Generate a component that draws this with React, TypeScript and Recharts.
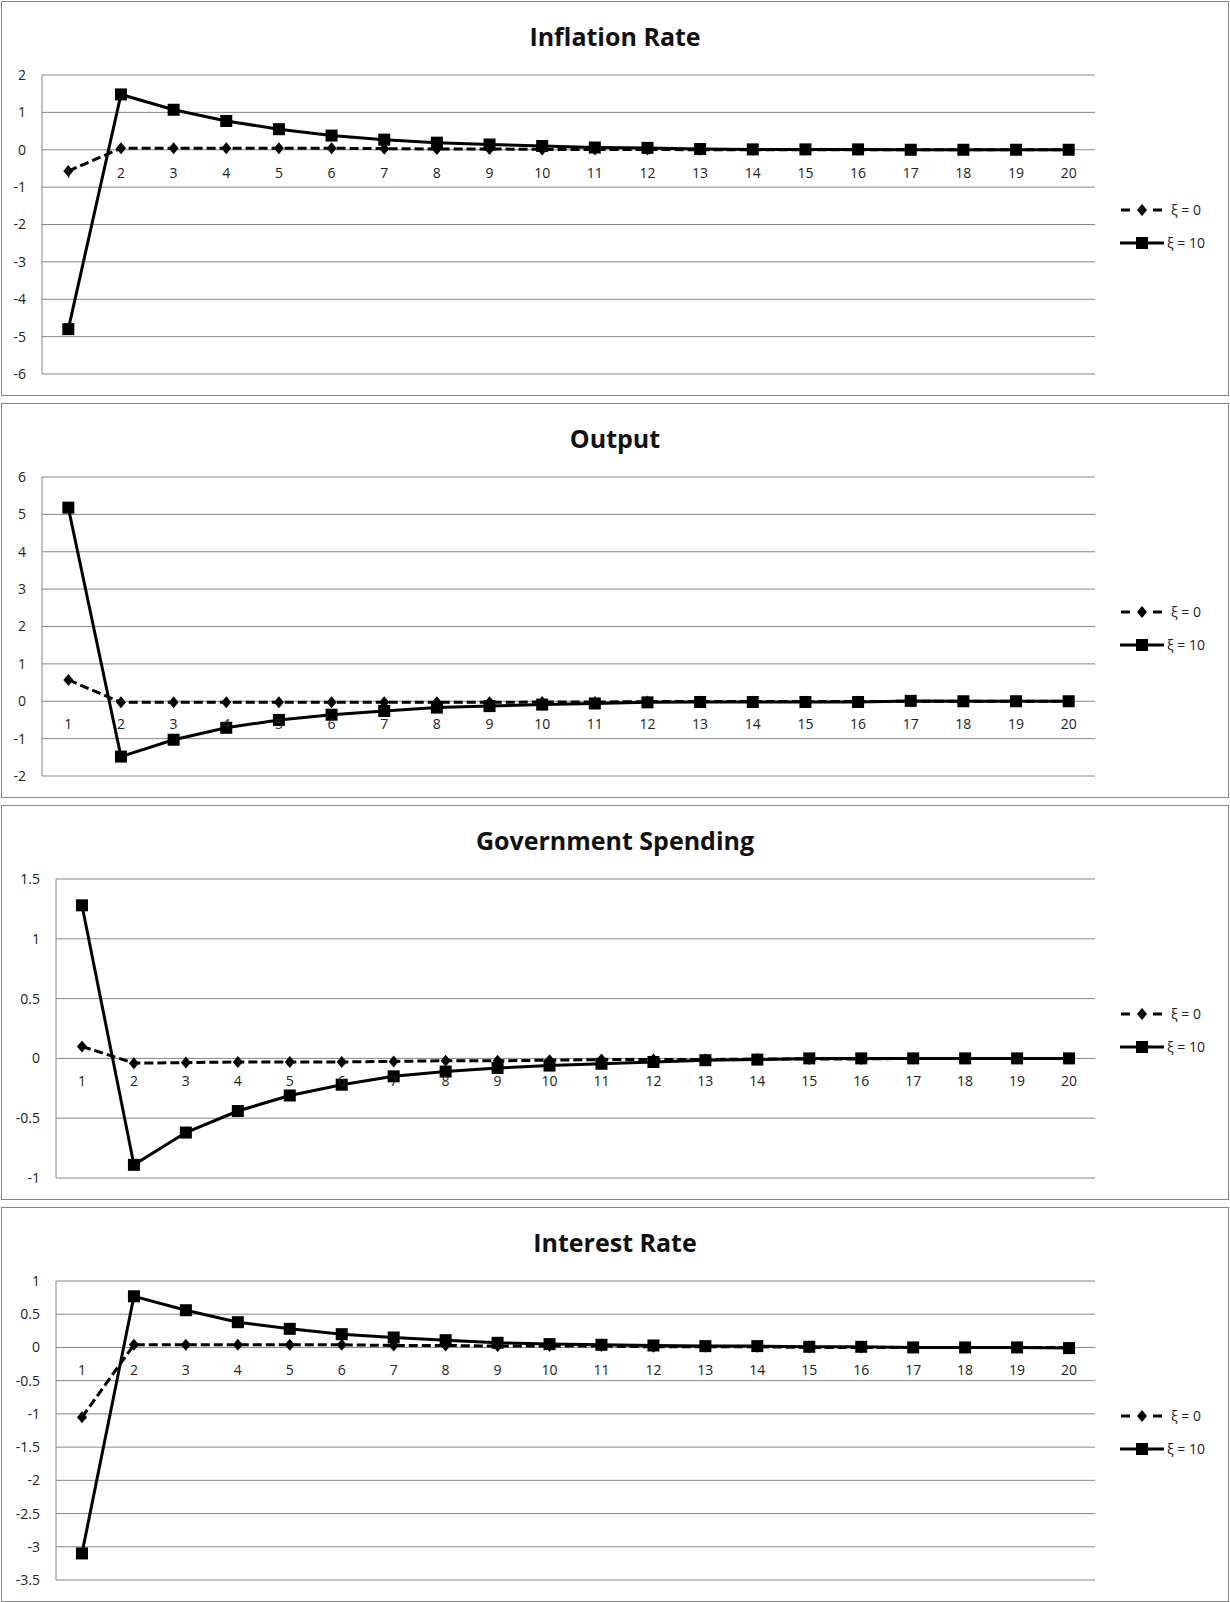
import React from 'react';
import { LineChart, Line, XAxis, YAxis, CartesianGrid, Legend, LabelList } from 'recharts';

const periods = [1, 2, 3, 4, 5, 6, 7, 8, 9, 10, 11, 12, 13, 14, 15, 16, 17, 18, 19, 20];

const inflationXi0 = [-0.57, 0.04, 0.04, 0.04, 0.04, 0.04, 0.03, 0.02, 0.02, 0.01, 0.01, 0.01, 0, 0, 0, 0, 0, 0, 0, 0];
const inflationXi10 = [-4.8, 1.48, 1.07, 0.77, 0.55, 0.38, 0.27, 0.19, 0.14, 0.1, 0.06, 0.05, 0.02, 0.01, 0.01, 0.01, 0, 0, 0, 0];

const outputXi0 = [0.57, -0.03, -0.03, -0.03, -0.03, -0.03, -0.03, -0.03, -0.03, -0.02, -0.02, -0.01, -0.01, -0.01, -0.01, -0.01, 0, 0, 0, 0];
const outputXi10 = [5.18, -1.48, -1.03, -0.71, -0.5, -0.36, -0.26, -0.17, -0.13, -0.09, -0.06, -0.03, -0.02, -0.02, -0.02, -0.02, 0.01, 0, 0, 0];

const spendingXi0 = [0.1, -0.04, -0.035, -0.03, -0.03, -0.03, -0.025, -0.02, -0.02, -0.015, -0.01, -0.01, -0.01, -0.005, -0.005, -0.005, 0, 0, 0, 0];
const spendingXi10 = [1.28, -0.89, -0.62, -0.44, -0.31, -0.22, -0.15, -0.11, -0.08, -0.06, -0.045, -0.03, -0.015, -0.01, 0, 0, 0, 0, 0, 0];

const interestXi0 = [-1.05, 0.04, 0.04, 0.04, 0.04, 0.04, 0.03, 0.03, 0.02, 0.02, 0.02, 0.01, 0.01, 0.01, 0, 0, 0, 0, 0, 0];
const interestXi10 = [-3.1, 0.77, 0.56, 0.38, 0.28, 0.2, 0.15, 0.11, 0.07, 0.05, 0.04, 0.03, 0.02, 0.02, 0.01, 0.01, 0, 0, 0, -0.01];

const inflationTicks = [-6, -5, -4, -3, -2, -1, 0, 1, 2];
const outputTicks = [-2, -1, 0, 1, 2, 3, 4, 5, 6];
const spendingTicks = [-1, -0.5, 0, 0.5, 1, 1.5];
const interestTicks = [-3.5, -3, -2.5, -2, -1.5, -1, -0.5, 0, 0.5, 1];

const seriesNames = ['ξ = 0', 'ξ = 10'];

const FONT = '"Open Sans", "Noto Sans", sans-serif';
const GRID = '#868686';
const INK = '#222';

const Diamond = (props: any) => {
  const { cx, cy, index } = props;
  if (cx == null || cy == null) return <g key={`dm-${index}`} />;
  return (
    <polygon
      key={`dm-${index}`}
      points={`${cx},${cy - 6} ${cx + 5},${cy} ${cx},${cy + 6} ${cx - 5},${cy}`}
      fill="#000"
    />
  );
};

const Square = (props: any) => {
  const { cx, cy, index } = props;
  if (cx == null || cy == null) return <g key={`sq-${index}`} />;
  return <rect key={`sq-${index}`} x={cx - 6} y={cy - 6} width={12} height={12} fill="#000" />;
};

const renderLegend = (props: any) => {
  const items = (props.payload || []).filter((e: any) => e.dataKey === 'xi0' || e.dataKey === 'xi10');
  return (
    <div style={{ fontFamily: FONT, fontSize: 14, color: INK }}>
      {items.map((entry: any) => (
        <div key={entry.dataKey} style={{ display: 'flex', alignItems: 'center', height: 33 }}>
          <svg width={44} height={14} style={{ display: 'block' }}>
            {entry.dataKey === 'xi0' ? (
              <g>
                <line x1={1} y1={7} x2={10} y2={7} stroke="#000" strokeWidth={3} />
                <line x1={33} y1={7} x2={42} y2={7} stroke="#000" strokeWidth={3} />
                <polygon points="22,1 27,7 22,13 17,7" fill="#000" />
              </g>
            ) : (
              <g>
                <line x1={0} y1={7} x2={44} y2={7} stroke="#000" strokeWidth={3} />
                <rect x={16} y={1} width={12} height={12} fill="#000" />
              </g>
            )}
          </svg>
          <span style={{ marginLeft: entry.dataKey === 'xi0' ? 7 : 3 }}>{entry.value}</span>
        </div>
      ))}
    </div>
  );
};

type PanelProps = {
  title: string;
  xi0: number[];
  xi10: number[];
  ticks: number[];
  axisWidth: number;
};

const Panel = ({ title, xi0, xi10, ticks, axisWidth }: PanelProps) => {
  const data = periods.map((p, i) => ({ period: p, xi0: xi0[i], xi10: xi10[i], axis: 0 }));
  return (
    <div
      style={{
        position: 'relative',
        width: 1228,
        height: 395,
        boxSizing: 'border-box',
        border: `1px solid ${GRID}`,
        background: '#fff',
        marginBottom: 7,
      }}
    >
      <div
        style={{
          position: 'absolute',
          left: 0,
          right: 0,
          top: 19,
          textAlign: 'center',
          fontFamily: FONT,
          fontWeight: 700,
          fontSize: 25,
          lineHeight: '30px',
          color: '#111',
        }}
      >
        {title}
      </div>
      <LineChart width={1226} height={393} data={data} margin={{ top: 73, right: 133, bottom: 21, left: 0 }}>
        <CartesianGrid vertical={false} stroke={GRID} />
        <XAxis type="number" dataKey="period" domain={[0.5, 20.5]} hide />
        <YAxis
          type="number"
          domain={[ticks[0], ticks[ticks.length - 1]]}
          ticks={ticks}
          interval={0}
          width={axisWidth}
          tickLine={false}
          tickSize={0}
          tickMargin={16}
          axisLine={{ stroke: GRID }}
          tick={{ fill: INK, fontSize: 14, fontFamily: FONT }}
        />
        <Line
          dataKey="axis"
          stroke="transparent"
          dot={false}
          activeDot={false}
          legendType="none"
          isAnimationActive={false}
        >
          <LabelList dataKey="period" position="bottom" offset={18} fill={INK} fontSize={14} fontFamily={FONT} />
        </Line>
        <Line
          dataKey="xi0"
          name={seriesNames[0]}
          stroke="#000"
          strokeWidth={3}
          strokeDasharray="9 4"
          dot={Diamond}
          activeDot={false}
          isAnimationActive={false}
        />
        <Line
          dataKey="xi10"
          name={seriesNames[1]}
          stroke="#000"
          strokeWidth={3}
          dot={Square}
          activeDot={false}
          isAnimationActive={false}
        />
        <Legend
          layout="vertical"
          align="center"
          verticalAlign="middle"
          content={renderLegend}
          wrapperStyle={{ left: 1118, top: 191, width: 100, height: 66 }}
        />
      </LineChart>
    </div>
  );
};

export default function App() {
  return (
    <div style={{ paddingTop: 1, paddingLeft: 1 }}>
      <style>{'body{margin:0;background:#fff}'}</style>
      <Panel title="Inflation Rate" xi0={inflationXi0} xi10={inflationXi10} ticks={inflationTicks} axisWidth={40} />
      <Panel title="Output" xi0={outputXi0} xi10={outputXi10} ticks={outputTicks} axisWidth={40} />
      <Panel title="Government Spending" xi0={spendingXi0} xi10={spendingXi10} ticks={spendingTicks} axisWidth={54} />
      <Panel title="Interest Rate" xi0={interestXi0} xi10={interestXi10} ticks={interestTicks} axisWidth={54} />
    </div>
  );
}
